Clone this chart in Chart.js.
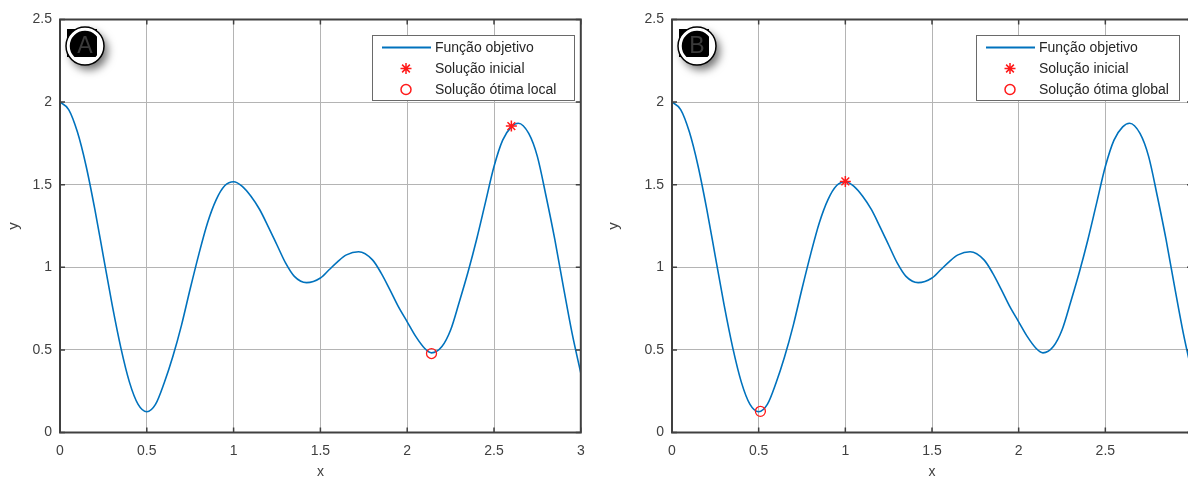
<!DOCTYPE html>
<html><head><meta charset="utf-8">
<script src="https://cdn.jsdelivr.net/npm/chart.js@4.4.1/dist/chart.umd.min.js"></script>
<style>
html,body{margin:0;padding:0;background:#fff;overflow:hidden;width:1188px;height:479px;}
#wrap{position:relative;width:1188px;height:479px;overflow:hidden;background:#fff;}
canvas{position:absolute;top:0;}
#cA{left:0;} #cB{left:600px;}
</style></head><body>
<div id="wrap"><canvas id="cA" width="600" height="479"></canvas><canvas id="cB" width="640" height="479"></canvas></div>
<script>
// ---- data ----
const xValues = [0, 0.05, 0.1, 0.15, 0.2, 0.25, 0.3, 0.35, 0.4, 0.45, 0.5, 0.55, 0.6, 0.65, 0.7, 0.75, 0.8, 0.85, 0.9, 0.95,
  1.0, 1.05, 1.1, 1.15, 1.2, 1.25, 1.3, 1.35, 1.42, 1.5, 1.55, 1.6, 1.65, 1.72, 1.8, 1.85, 1.9, 1.95,
  2.0, 2.05, 2.1, 2.14, 2.2, 2.25, 2.3, 2.35, 2.4, 2.45, 2.5, 2.55, 2.6, 2.64, 2.7, 2.75, 2.8, 2.85, 2.9, 2.95, 3.0];
const yValues = [2.0, 1.955, 1.82, 1.615, 1.355, 1.065, 0.775, 0.515, 0.305, 0.17, 0.126, 0.17, 0.30, 0.46, 0.65, 0.87, 1.08, 1.27, 1.41, 1.495,
  1.518, 1.49, 1.43, 1.35, 1.245, 1.135, 1.025, 0.945, 0.907, 0.935, 0.985, 1.035, 1.075, 1.094, 1.045, 0.965, 0.865, 0.76,
  0.67, 0.58, 0.51, 0.482, 0.52, 0.62, 0.79, 0.97, 1.17, 1.39, 1.61, 1.77, 1.85, 1.872, 1.81, 1.67, 1.43, 1.17, 0.88, 0.60, 0.36];
const xTickValues = [0, 0.5, 1, 1.5, 2, 2.5, 3];
const yTickValues = [0, 0.5, 1, 1.5, 2, 2.5];
const initialA = [2.6, 1.855];
const optimalA = [2.14, 0.478];
const initialB = [1.0, 1.52];
const optimalB = [0.51, 0.128];
const namesA = ['Função objetivo', 'Solução inicial', 'Solução ótima local'];
const namesB = ['Função objetivo', 'Solução inicial', 'Solução ótima global'];

Chart.defaults.font.family = "'Liberation Sans', Arial, sans-serif";
Chart.defaults.font.size = 14;

function drawMarker(ctx, style, x, y, color, r, w) {
  ctx.save();
  ctx.strokeStyle = color; ctx.lineWidth = w;
  ctx.beginPath();
  if (style === 'star') {
    for (let k = 0; k < 4; k++) {
      const a = k * Math.PI / 4;
      ctx.moveTo(x - r * Math.cos(a), y - r * Math.sin(a));
      ctx.lineTo(x + r * Math.cos(a), y + r * Math.sin(a));
    }
  } else {
    ctx.arc(x, y, r, 0, Math.PI * 2);
  }
  ctx.stroke();
  ctx.restore();
}

const framePlugin = {
  id: 'frame',
  afterDraw(chart, args, opts) {
    const ctx = chart.ctx, a = chart.chartArea, xs = chart.scales.x, ys = chart.scales.y;
    ctx.save();
    // inward ticks
    ctx.strokeStyle = '#404040'; ctx.lineWidth = 1.5;
    ctx.beginPath();
    xs.ticks.forEach(t => {
      const px = xs.getPixelForValue(t.value);
      ctx.moveTo(px, a.top); ctx.lineTo(px, a.top + 5);
      ctx.moveTo(px, a.bottom); ctx.lineTo(px, a.bottom - 5);
    });
    ys.ticks.forEach(t => {
      const py = ys.getPixelForValue(t.value);
      ctx.moveTo(a.left, py); ctx.lineTo(a.left + 5, py);
      ctx.moveTo(a.right, py); ctx.lineTo(a.right - 5, py);
    });
    ctx.stroke();
    // axes box
    ctx.lineWidth = 2; ctx.strokeStyle = '#404040';
    ctx.strokeRect(a.left, a.top, a.right - a.left, a.bottom - a.top);

    // legend
    const L = opts.legend;
    ctx.fillStyle = '#fff';
    ctx.fillRect(L.x, L.y, L.w, L.h);
    ctx.lineWidth = 1; ctx.strokeStyle = '#6a6a6a';
    ctx.strokeRect(L.x + 0.5, L.y + 0.5, L.w - 1, L.h - 1);
    const ds = chart.data.datasets;
    ctx.font = "14px 'Liberation Sans', Arial, sans-serif";
    ctx.textBaseline = 'middle'; ctx.textAlign = 'left';
    ds.forEach((d, i) => {
      const ry = L.y + 12.5 + i * 21;
      if (i === 0) {
        ctx.strokeStyle = d.borderColor; ctx.lineWidth = 2;
        ctx.beginPath(); ctx.moveTo(L.x + 10, ry); ctx.lineTo(L.x + 59, ry); ctx.stroke();
      } else {
        drawMarker(ctx, d.pointStyle, L.x + 34, ry, d.borderColor, d.pointStyle === 'star' ? 5.5 : 5, 1.5);
      }
      ctx.fillStyle = '#262626';
      ctx.fillText(d.label, L.x + 63, ry + 0.5);
    });

    // badge
    const cx = a.left + 25, cy = a.top + 26.5;
    ctx.save();
    ctx.shadowColor = 'rgba(0,0,0,0.55)'; ctx.shadowBlur = 8; ctx.shadowOffsetX = 4; ctx.shadowOffsetY = 5;
    ctx.beginPath(); ctx.arc(cx, cy, 19, 0, Math.PI * 2); ctx.fillStyle = '#fff'; ctx.fill();
    ctx.restore();
    ctx.fillStyle = '#000';
    ctx.fillRect(cx - 18, cy - 17, 30, 28);
    ctx.beginPath(); ctx.arc(cx, cy, 17, 0, Math.PI * 2); ctx.lineWidth = 3.5; ctx.strokeStyle = '#fff'; ctx.stroke();
    ctx.beginPath(); ctx.arc(cx, cy, 19, 0, Math.PI * 2); ctx.lineWidth = 1.5; ctx.strokeStyle = '#000'; ctx.stroke();
    ctx.fillStyle = '#3a3a3a';
    ctx.font = "23px 'Liberation Sans', Arial, sans-serif";
    ctx.textAlign = 'center'; ctx.textBaseline = 'middle';
    ctx.fillText(opts.letter, cx, cy + 1);
    ctx.restore();
  }
};

function makeChart(id, names, initPt, optPt, yAxisWidth, padRight, letter, legend) {
  return new Chart(document.getElementById(id), {
    type: 'scatter',
    data: {
      datasets: [
        { label: names[0], data: xValues.map((x, i) => ({ x: x, y: yValues[i] })), showLine: true,
          borderColor: '#0072BD', borderWidth: 1.6, pointRadius: 0, cubicInterpolationMode: 'monotone', order: 3 },
        { label: names[1], data: [{ x: initPt[0], y: initPt[1] }], pointStyle: 'star', pointRadius: 5.5,
          borderColor: '#ff1a1a', backgroundColor: '#ff1a1a', borderWidth: 1.5, order: 1 },
        { label: names[2], data: [{ x: optPt[0], y: optPt[1] }], pointStyle: 'circle', pointRadius: 5,
          borderColor: '#ff1a1a', backgroundColor: 'rgba(0,0,0,0)', borderWidth: 1.3, order: 2 }
      ]
    },
    options: {
      responsive: false, animation: false,
      layout: { padding: { top: 19.5, right: padRight, left: 0, bottom: 0 } },
      plugins: { legend: { display: false }, tooltip: { enabled: false },
        frame: { letter: letter, legend: legend } },
      scales: {
        x: { type: 'linear', min: 0, max: 3,
          afterBuildTicks: s => { s.ticks = xTickValues.map(v => ({ value: v })); },
          afterFit: s => { s.height = 46.5; },
          ticks: { color: '#404040', padding: 10, maxRotation: 0, autoSkip: false, callback: v => String(v) },
          grid: { color: '#b4b4b4', lineWidth: 1, drawTicks: false },
          border: { display: false },
          title: { display: true, text: 'x', color: '#404040', padding: { top: 0, bottom: -2 } } },
        y: { type: 'linear', min: 0, max: 2.5,
          afterBuildTicks: s => { s.ticks = yTickValues.map(v => ({ value: v })); },
          afterFit: s => { s.width = yAxisWidth; },
          ticks: { color: '#404040', padding: 8, callback: v => String(v) },
          grid: { color: '#b4b4b4', lineWidth: 1, drawTicks: false },
          border: { display: false },
          title: { display: true, text: 'y', color: '#404040', font: { size: 15 }, padding: { top: 5, bottom: 0 } } }
      }
    },
    plugins: [framePlugin]
  });
}

makeChart('cA', namesA, initialA, optimalA, 60, 19.2, 'A', { x: 372, y: 35, w: 203, h: 66 });
makeChart('cB', namesB, initialB, optimalB, 72, 48, 'B', { x: 376, y: 35, w: 204, h: 66 });
</script>
</body></html>
